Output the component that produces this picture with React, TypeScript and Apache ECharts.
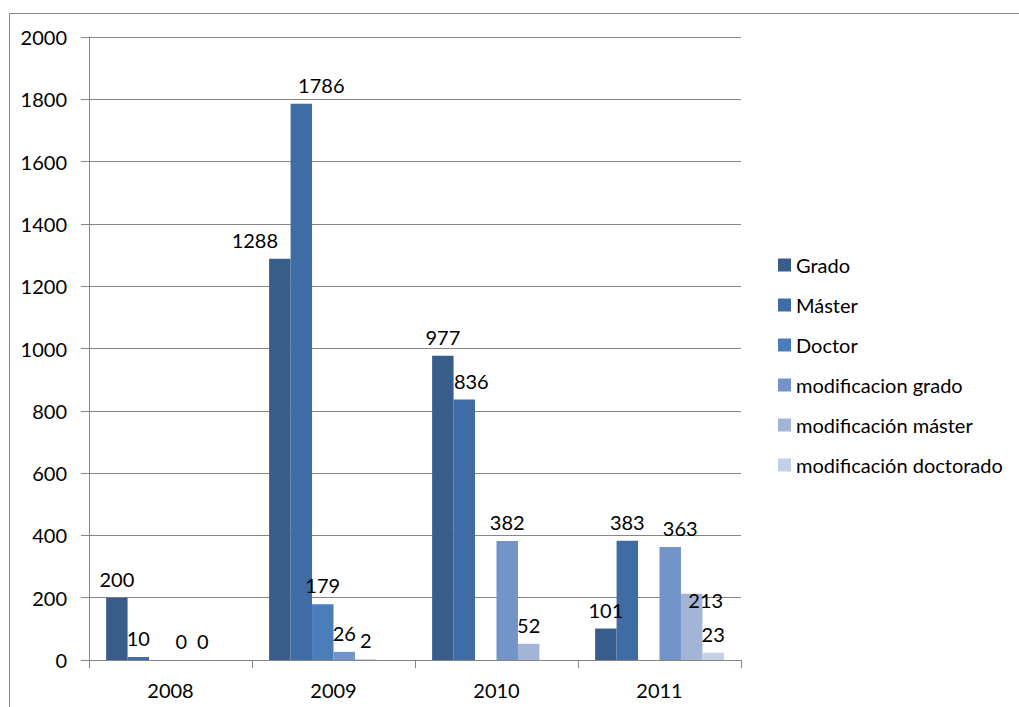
import React, { useEffect, useRef } from "react";
import * as echarts from "echarts";

const categories = ["2008", "2009", "2010", "2011"];
const seriesNames = [
  "Grado",
  "Máster",
  "Doctor",
  "modificacion grado",
  "modificación máster",
  "modificación doctorado",
];
const grado = [200, 1288, 977, 101];
const master = [10, 1786, 836, 383];
const doctor = [null, 179, null, null];
const modGrado = [0, 26, 382, 363];
const modMaster = [0, 2, 52, 213];
const modDoctorado = [null, null, null, 23];
const yTicks = { min: 0, max: 2000, interval: 200 };

const colors = ["#385D8A", "#3F6CA4", "#4A7EBB", "#7394C8", "#A2B5D7", "#C4D0E6"];
// label nudges (styling only) keyed by series index then category index
const labelNudges: Record<string, [number, number]> = {
  "0-1": [-25, 0],
  "1-1": [20, 0],
  "1-2": [7, 0],
  "3-3": [10, 0],
  "4-3": [14, 25],
};

const FONT = "Lato, 'Open Sans', sans-serif";
const FS = 20;

export default function App() {
  const ref = useRef<HTMLDivElement>(null);
  useEffect(() => {
    if (!ref.current) return;
    const chart = echarts.init(ref.current, null, { renderer: "svg" });
    const all = [grado, master, doctor, modGrado, modMaster, modDoctorado];
    const series = all.map((arr, si) => ({
      name: seriesNames[si],
      type: "bar",
      barGap: "0%",
      barCategoryGap: "21%",
      itemStyle: { color: colors[si] },
      label: {
        show: true,
        position: "top",
        distance: 9,
        color: "#000",
        fontSize: FS,
        fontFamily: FONT,
      },
      data: arr.map((v, ci) => {
        const n = labelNudges[`${si}-${ci}`];
        if (v === null) return null;
        return n ? { value: v, label: { offset: n } } : v;
      }),
    }));
    chart.setOption({
      animation: false,
      textStyle: { fontFamily: FONT },
      grid: { left: 89, right: 278, top: 37, bottom: 47, containLabel: false },
      legend: {
        orient: "vertical",
        left: 778,
        top: 255,
        padding: 0,
        itemWidth: 13,
        itemHeight: 13,
        itemGap: 20,
        icon: "rect",
        textStyle: { fontSize: FS, color: "#000", fontFamily: FONT },
        data: seriesNames,
      },
      xAxis: {
        type: "category",
        data: categories,
        axisLine: { lineStyle: { color: "#868686", width: 1 } },
        axisTick: { show: true, length: 8, alignWithLabel: false, interval: 0, lineStyle: { color: "#868686" } },
        axisLabel: { color: "#000", fontSize: FS, margin: 20, fontFamily: FONT },
      },
      yAxis: {
        type: "value",
        min: yTicks.min,
        max: yTicks.max,
        interval: yTicks.interval,
        axisLine: { show: true, lineStyle: { color: "#868686", width: 1 } },
        axisTick: { show: true, length: 8, lineStyle: { color: "#868686" } },
        axisLabel: {
          color: "#000",
          fontSize: FS,
          margin: 22,
          fontFamily: FONT,
          formatter: (v: number) => String(v),
        },
        splitLine: { show: true, lineStyle: { color: "#868686", width: 1 } },
      },
      graphic: [
        {
          type: "rect",
          shape: { x: 9.5, y: 13.5, width: 1100, height: 800 },
          style: { fill: "none", stroke: "#868686", lineWidth: 1 },
          silent: true,
        },
      ],
      series,
    });
    return () => chart.dispose();
  }, []);
  return (
    <div
      ref={ref}
      style={{ position: "fixed", left: 0, top: 0, width: 1019, height: 707, background: "#fff" }}
    />
  );
}
